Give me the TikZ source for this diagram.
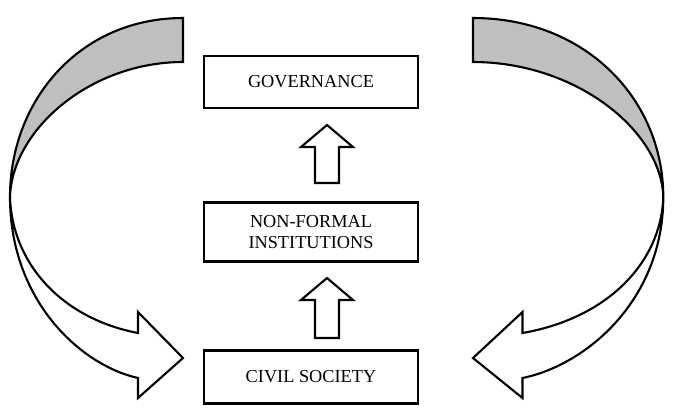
\documentclass[tikz,border=0pt]{standalone}
\usepackage{fontspec}
\setmainfont{Liberation Serif}
\usetikzlibrary{positioning}
\tikzset{
  levelbox/.style={draw,line width=0.6pt,minimum width=2.14cm,minimum height=0.52cm,
    align=center,font=\fontsize{5.2}{6.2}\selectfont},
  blockline/.style={draw,line width=0.6pt,line join=miter}
}
% hollow up arrow: centre x, bottom y, top y
\newcommand{\uparrowblock}[3]{%
  \draw[blockline,fill=white] (#1-12,#2) -- (#1+12,#2) -- (#1+12,#3+22) -- (#1+26,#3+22)
    -- (#1,#3) -- (#1-26,#3+22) -- (#1-12,#3+22) -- cycle;}
% curved return arrow in local coordinates
\newcommand{\returnarrow}{%
  \draw[blockline,fill=white] (173,197) .. controls (173,300) and (103,365) .. (45,378)
    -- (45,398) -- (0,358) -- (45,312) -- (45,333)
    .. controls (123,318) and (171,262) .. (173,197) -- cycle;
  \draw[blockline,fill=gray!50] (0,18) .. controls (103,18) and (173,100) .. (173,197)
    .. controls (171,130) and (93,62) .. (0,62) -- cycle;}
\begin{document}
\begin{tikzpicture}[x=0.01cm,y=-0.01cm]
\useasboundingbox (0,0) rectangle (675,417);

% Levels
\node[levelbox] (gov) at (311,82) {GOVERNANCE};
\node[levelbox,minimum height=0.59cm] (nfi) at (311,232) {NON-FORMAL\\INSTITUTIONS};
\node[levelbox,minimum height=0.53cm] (civ) at (311,377) {CIVIL SOCIETY};

% Upward arrows
\uparrowblock{327}{183}{125}
\uparrowblock{327}{338}{278}

% Side arrows
\begin{scope}[shift={(183,0)},xscale=-1]
  \returnarrow
\end{scope}
\begin{scope}[shift={(473,0)},xscale=1.1]
  \returnarrow
\end{scope}
\end{tikzpicture}
\end{document}
